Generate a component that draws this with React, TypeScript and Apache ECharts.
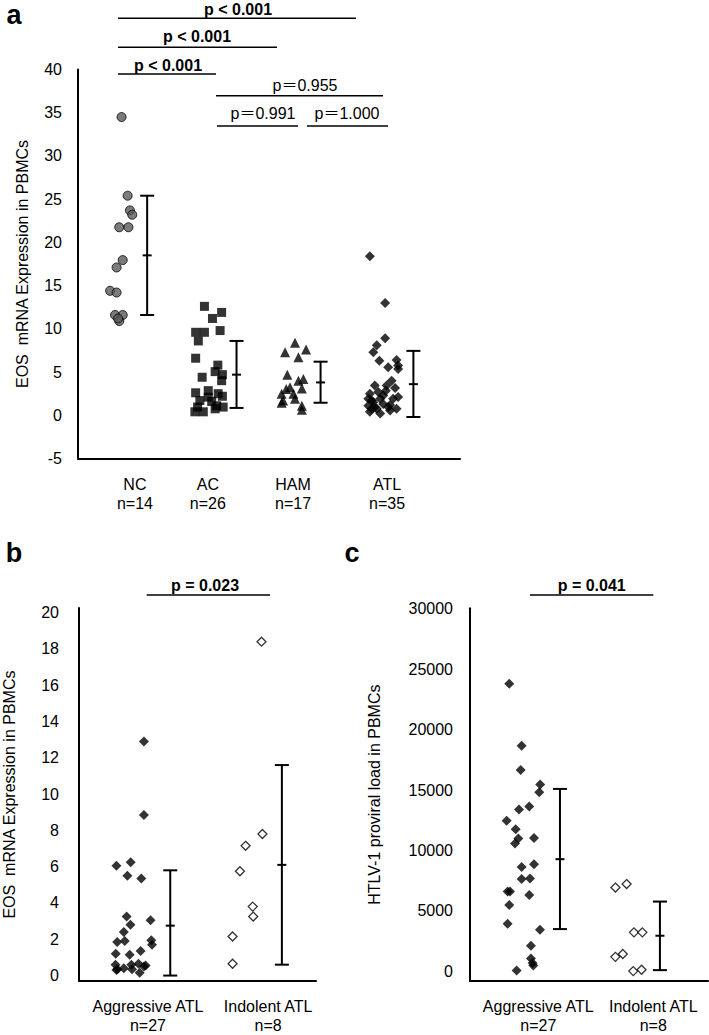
import React, { useEffect, useRef } from "react";
import * as echarts from "echarts";

const FONT = '"Liberation Sans", Arial, "Noto Sans CJK JP", sans-serif';

// ---------- Panel a ----------
const aCategories = ["NC\nn=14", "AC\nn=26", "HAM\nn=17", "ATL\nn=35"];
const aCategoryPos = [14.9, 34.0, 56.3, 80.9];
const aXMax = 100;
const aYMin = -5;
const aYMax = 40;

const ncX = [11.4, 13.0, 13.6, 14.2, 10.8, 13.2, 11.7, 10.1, 8.4, 10.1, 9.7, 11.7, 10.8, 10.5];
const ncV = [34.5, 25.4, 23.7, 23.2, 21.75, 21.75, 17.95, 17.1, 14.4, 14.2, 11.6, 11.6, 10.9, 11.2];

const acX = [33.1, 37.6, 35.2, 37.2, 30.8, 33.1, 31.5, 30.8, 36.6, 35.9, 37.8, 32.5, 37.6, 30.8, 34.1, 36.7, 37.8, 31.9, 35.0, 36.3, 38.0, 30.6, 32.8, 35.9, 31.3, 34.1];
const acV = [12.6, 11.9, 11.2, 9.8, 9.6, 9.6, 8.6, 6.6, 5.8, 5.05, 4.7, 4.4, 4.0, 2.6, 2.85, 2.5, 2.2, 1.7, 1.6, 1.1, 0.95, 0.4, 0.4, 0.75, 0.95, 2.1];

const hamX = [56.8, 54.2, 59.7, 57.7, 54.8, 57.7, 59.0, 58.6, 54.5, 55.5, 53.3, 56.4, 53.7, 56.8, 53.3, 58.6, 58.6];
const hamV = [8.4, 7.3, 7.6, 6.7, 4.7, 4.0, 4.2, 3.1, 3.05, 3.25, 2.5, 2.5, 1.7, 1.9, 1.45, 1.1, 0.65];

const atlX = [76.4, 80.4, 80.4, 78.2, 77.3, 78.9, 81.2, 83.4, 83.8, 83.8, 77.7, 82.1, 80.6, 83.0, 76.4, 78.6, 83.8, 76.9, 79.1, 79.9, 81.7, 76.0, 77.7, 83.4, 76.4, 81.7, 78.2, 79.9, 76.9, 76.0, 82.5, 80.8, 77.3, 81.2, 79.1];
const atlV = [18.4, 13.0, 8.9, 8.1, 7.3, 6.3, 5.55, 6.4, 5.75, 5.35, 3.45, 4.0, 2.85, 3.15, 2.5, 2.7, 2.1, 1.7, 1.9, 1.3, 1.2, 1.1, 0.95, 0.75, 0.4, 0.55, 0.75, 2.3, 0.75, 1.9, 1.9, 3.45, 1.5, 0.95, 0.2];

// [x, mean, low, high]
const aErrorBars = [
  [18.1, 18.5, 11.6, 25.4],
  [41.5, 4.7, 0.85, 8.6],
  [63.5, 3.8, 1.45, 6.2],
  [87.8, 3.6, -0.2, 7.45],
];

// ---------- Panel b ----------
const bCategories = ["Aggressive ATL\nn=27", "Indolent ATL\nn=8"];
const bCategoryPos = [29.1, 79.8];
const bYTicks = [0, 2, 4, 6, 8, 10, 12, 14, 16, 18, 20];
const bYMin = -0.3;
const bYMax = 20.25;
const bAggX = [27.4, 27.4, 15.8, 21.8, 20.4, 26.3, 20.1, 30.2, 21.7, 18.9, 16.1, 19.3, 30.5, 30.8, 15.5, 21.4, 26.0, 15.4, 16.2, 18.9, 22.1, 22.4, 25.1, 27.4, 25.6, 15.8, 28.1];
const bAggV = [12.9, 8.85, 6.05, 6.25, 5.5, 5.35, 3.25, 3.05, 2.8, 2.4, 1.85, 1.9, 1.95, 1.7, 1.2, 1.15, 1.35, 0.6, 0.35, 0.4, 0.6, 0.35, 0.65, 0.5, 0.15, 0.3, 0.55];
const bIndX = [77.0, 77.4, 70.3, 67.9, 73.3, 73.5, 64.8, 64.8];
const bIndV = [18.4, 7.8, 7.15, 5.75, 3.8, 3.25, 2.15, 0.65];
const bErrorBars = [
  [38.5, 2.75, 0, 5.8],
  [85.6, 6.1, 0.6, 11.6],
];

// ---------- Panel c ----------
const cCategories = ["Aggressive ATL\nn=27", "Indolent ATL\nn=8"];
const cCategoryPos = [28.7, 77.0];
const cYTicks = [0, 5000, 10000, 15000, 20000, 25000, 30000];
const cYMin = -820;
const cYMax = 30050;
const cAggX = [16.5, 21.7, 21.3, 29.5, 29.1, 20.6, 24.9, 15.4, 19.2, 20.3, 26.9, 18.9, 21.7, 26.9, 21.7, 25.2, 15.8, 24.9, 16.5, 15.8, 29.4, 25.6, 25.6, 26.6, 19.6, 16.8, 26.3];
const cAggV = [23800, 18660, 16660, 15450, 14820, 13390, 13640, 12460, 11740, 10980, 11030, 10570, 8620, 8840, 7630, 7680, 6590, 6310, 5480, 3920, 3430, 2110, 1040, 460, 50, 6590, 680];
const cIndX = [61.1, 65.8, 68.9, 72.4, 61.1, 64.2, 68.6, 72.1];
const cIndV = [6920, 7210, 3210, 3210, 1180, 1420, 0, 110];
const cErrorBars = [
  [37.8, 9270, 3480, 15090],
  [79.8, 2930, 80, 5760],
];

const zip = (xs: number[], ys: number[]) => xs.map((x, i) => [x, ys[i]]);

const errorBarRender = (params: any, api: any) => {
  const x = api.value(0);
  const top = api.coord([x, api.value(3)]);
  const mid = api.coord([x, api.value(1)]);
  const bot = api.coord([x, api.value(2)]);
  const cap = 7;
  const tick = 4.5;
  const style = { stroke: "#000", lineWidth: 2, fill: "none" };
  return {
    type: "group",
    children: [
      { type: "line", shape: { x1: top[0], y1: top[1], x2: bot[0], y2: bot[1] }, style },
      { type: "line", shape: { x1: top[0] - cap, y1: top[1], x2: top[0] + cap, y2: top[1] }, style },
      { type: "line", shape: { x1: bot[0] - cap, y1: bot[1], x2: bot[0] + cap, y2: bot[1] }, style },
      { type: "line", shape: { x1: mid[0] - tick, y1: mid[1], x2: mid[0] + tick, y2: mid[1] }, style },
    ],
  };
};

const catFormatter = (pos: number[], cats: string[]) => (v: number) => {
  const i = pos.findIndex((p) => Math.abs(p - v) < 0.001);
  return i >= 0 ? cats[i] : "";
};

const mkAxisLine = () => ({ show: true, onZero: false, lineStyle: { color: "#000", width: 2 } });
const mkLabel = () => ({ color: "#000", fontSize: 16, fontFamily: FONT });

const xAxisFor = (gridIndex: number, pos: number[], cats: string[], max: number) => ({
  type: "value",
  gridIndex,
  min: 0,
  max,
  axisLine: mkAxisLine(),
  axisTick: { show: false },
  splitLine: { show: false },
  axisLabel: {
    ...mkLabel(),
    customValues: pos,
    formatter: catFormatter(pos, cats),
    margin: 16,
    lineHeight: 19,
  },
});

const scatter = (name: string, xi: number, data: number[][], symbol: string, size: number, itemStyle: any) => ({
  name,
  type: "scatter",
  xAxisIndex: xi,
  yAxisIndex: xi,
  data,
  symbol,
  symbolSize: size,
  itemStyle,
  silent: true,
  z: 3,
});

// error bars, plus the horizontal axis baseline drawn as a mark line at the axis minimum
const errSeries = (name: string, xi: number, data: number[][], xMax: number, yMin: number) => ({
  name,
  type: "custom",
  xAxisIndex: xi,
  yAxisIndex: xi,
  renderItem: errorBarRender,
  encode: { x: 0, y: [1, 2, 3] },
  data,
  silent: true,
  clip: false,
  z: 4,
  markLine: {
    silent: true,
    symbol: "none",
    label: { show: false },
    lineStyle: { color: "#000", width: 2, type: "solid" },
    emphasis: { disabled: true },
    data: [[{ coord: [0, yMin] }, { coord: [xMax, yMin] }]],
  },
});

const textG = (text: string, x: number, y: number, bold: boolean, size = 16) => ({
  type: "text",
  x,
  y,
  style: {
    text,
    fill: "#000",
    font: `${bold ? "bold " : ""}${size}px ${FONT}`,
    textAlign: "center",
    textVerticalAlign: "middle",
  },
  silent: true,
});

const lineG = (x1: number, x2: number, y: number, w = 1.5) => ({
  type: "line",
  shape: { x1, y1: y, x2, y2: y },
  style: { stroke: "#000", lineWidth: w },
  silent: true,
});

export default function App() {
  const ref = useRef<HTMLDivElement>(null);
  useEffect(() => {
    document.body.style.margin = "0";
    if (!ref.current) return;
    const chart = echarts.init(ref.current, null, { renderer: "svg" });
    const option: any = {
      animation: false,
      backgroundColor: "#fff",
      textStyle: { fontFamily: FONT },
      grid: [
        { left: 78, top: 69.5, width: 382, height: 389 },
        { left: 77.3, top: 608.1, width: 238.7, height: 375.7 },
        { left: 470, top: 608.3, width: 238, height: 375 },
      ],
      xAxis: [
        xAxisFor(0, aCategoryPos, aCategories, aXMax),
        xAxisFor(1, bCategoryPos, bCategories, 100),
        xAxisFor(2, cCategoryPos, cCategories, 100),
      ],
      yAxis: [
        {
          type: "value",
          gridIndex: 0,
          min: aYMin,
          max: aYMax,
          interval: 5,
          axisLine: mkAxisLine(),
          axisTick: { show: false },
          splitLine: { show: false },
          axisLabel: { ...mkLabel(), margin: 16 },
          name: "EOS  mRNA Expression in PBMCs",
          nameLocation: "middle",
          nameRotate: 90,
          nameGap: 48,
          nameTextStyle: mkLabel(),
        },
        {
          type: "value",
          gridIndex: 1,
          min: bYMin,
          max: bYMax,
          axisLine: mkAxisLine(),
          axisTick: { show: false },
          splitLine: { show: false },
          axisLabel: { ...mkLabel(), margin: 20, customValues: bYTicks },
          name: "EOS  mRNA Expression in PBMCs",
          nameLocation: "middle",
          nameRotate: 90,
          nameGap: 62,
          nameTextStyle: mkLabel(),
        },
        {
          type: "value",
          gridIndex: 2,
          min: cYMin,
          max: cYMax,
          axisLine: mkAxisLine(),
          axisTick: { show: false },
          splitLine: { show: false },
          axisLabel: { ...mkLabel(), margin: 17, customValues: cYTicks, formatter: (v: number) => String(v) },
          name: "HTLV-1 proviral load in PBMCs",
          nameLocation: "middle",
          nameRotate: 90,
          nameGap: 88,
          nameTextStyle: mkLabel(),
        },
      ],
      series: [
        scatter("NC", 0, zip(ncX, ncV), "circle", 9, { color: "#5a5a5a", borderColor: "#000", borderWidth: 1 }),
        scatter("AC", 0, zip(acX, acV), "rect", 9, { color: "#000" }),
        scatter("HAM", 0, zip(hamX, hamV), "triangle", 10, { color: "#000" }),
        scatter("ATL", 0, zip(atlX, atlV), "diamond", 10, { color: "#000" }),
        errSeries("a-err", 0, aErrorBars, aXMax, aYMin),
        scatter("b-agg", 1, zip(bAggX, bAggV), "diamond", 10, { color: "#000" }),
        scatter("b-ind", 1, zip(bIndX, bIndV), "diamond", 9, { color: "#fff", borderColor: "#000", borderWidth: 1.3 }),
        errSeries("b-err", 1, bErrorBars, 100, bYMin),
        scatter("c-agg", 2, zip(cAggX, cAggV), "diamond", 10, { color: "#000" }),
        scatter("c-ind", 2, zip(cIndX, cIndV), "diamond", 9, { color: "#fff", borderColor: "#000", borderWidth: 1.3 }),
        errSeries("c-err", 2, cErrorBars, 100, cYMin),
      ],
      graphic: [
        textG("a", 14, 15, true, 27),
        textG("b", 14, 553, true, 27),
        textG("c", 352, 553, true, 27),
        textG("p < 0.001", 238, 9, true),
        lineG(118, 356, 18.3),
        textG("p < 0.001", 197, 36, true),
        lineG(118, 277, 47.3),
        textG("p < 0.001", 168, 65, true),
        lineG(118, 216, 74),
        textG("p＝0.955", 305, 85, false),
        lineG(216, 383, 95.7),
        textG("p＝0.991", 263, 113.5, false),
        lineG(217, 298, 126),
        textG("p＝1.000", 347, 113.5, false),
        lineG(307, 388, 126),
        textG("p = 0.023", 205, 585, true),
        lineG(146.7, 270, 595),
        textG("p = 0.041", 591.7, 585, true),
        lineG(530, 653.3, 595),
      ],
    };
    chart.setOption(option);
    return () => chart.dispose();
  }, []);
  return <div ref={ref} style={{ width: 709, height: 1035 }} />;
}
